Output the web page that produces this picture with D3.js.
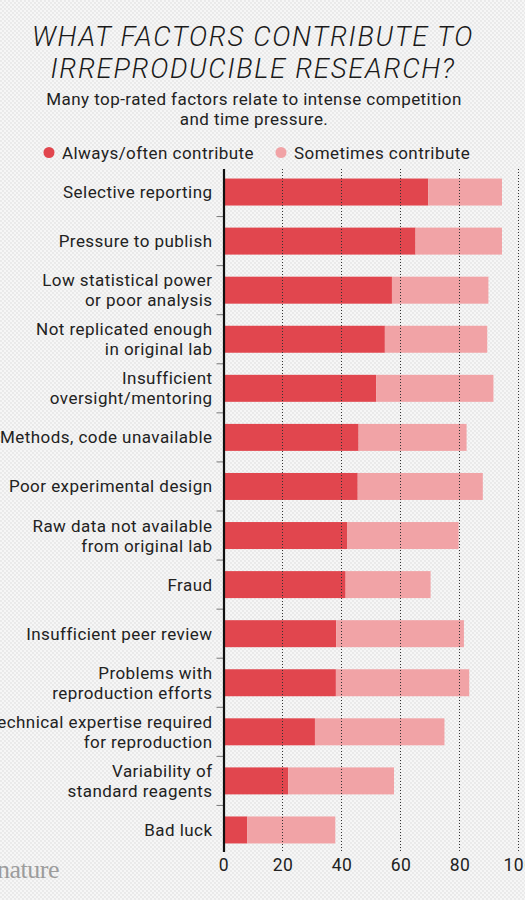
<!DOCTYPE html>
<html><head><meta charset="utf-8">
<script src="https://cdn.jsdelivr.net/npm/d3@7"></script>
<style>
html,body{margin:0;padding:0;background:#f3f3f3;}
svg{display:block;}
</style></head>
<body>
<script>
const categories = [
  ["Selective reporting"],
  ["Pressure to publish"],
  ["Low statistical power","or poor analysis"],
  ["Not replicated enough","in original lab"],
  ["Insufficient","oversight/mentoring"],
  ["Methods, code unavailable"],
  ["Poor experimental design"],
  ["Raw data not available","from original lab"],
  ["Fraud"],
  ["Insufficient peer review"],
  ["Problems with","reproduction efforts"],
  ["Technical expertise required","for reproduction"],
  ["Variability of","standard reagents"],
  ["Bad luck"]
];
const alwaysOften = [69.4, 65.1, 57.1, 54.7, 51.8, 45.8, 45.5, 42.0, 41.4, 38.2, 38.1, 31.0, 21.9, 8.0];
const totalContribute = [94.4, 94.4, 89.8, 89.4, 91.5, 82.4, 87.9, 79.7, 70.2, 81.5, 83.3, 74.9, 57.8, 37.9];
const sometimes = totalContribute.map((t,i)=> t - alwaysOften[i]);
const xTicks = [0,20,40,60,80,100];
const seriesNames = ["Always/often contribute","Sometimes contribute"];
const colors = ["#e1464e","#f1a3a6"];

const W = 525, H = 900;
const svg = d3.select("body").append("svg").attr("width",W).attr("height",H);

// textured background
const defs = svg.append("defs");
const pat = defs.append("pattern").attr("id","dots").attr("width",4).attr("height",4).attr("patternUnits","userSpaceOnUse");
pat.append("rect").attr("width",4).attr("height",4).attr("fill","#f6f6f6");
pat.append("circle").attr("cx",1).attr("cy",1).attr("r",0.9).attr("fill","#e4e4e4");
pat.append("circle").attr("cx",3).attr("cy",3).attr("r",0.9).attr("fill","#e4e4e4");
svg.append("rect").attr("width",W).attr("height",H).attr("fill","url(#dots)");

const font = "Roboto, 'Noto Sans', sans-serif";
const ls = 0.45;

// Title
const title = svg.append("text").attr("text-anchor","middle")
  .attr("font-family",font).attr("font-style","italic").attr("font-weight",300)
  .attr("font-size",27.5).attr("fill","#1a1a1a").attr("letter-spacing",1.7);
title.append("tspan").attr("x",253).attr("y",46).text("WHAT FACTORS CONTRIBUTE TO");
title.append("tspan").attr("x",253).attr("y",77.5).text("IRREPRODUCIBLE RESEARCH?");

const sub = svg.append("text").attr("text-anchor","middle")
  .attr("font-family",font).attr("font-size",17).attr("fill","#222").attr("letter-spacing",ls);
sub.append("tspan").attr("x",254).attr("y",104.5).text("Many top-rated factors relate to intense competition");
sub.append("tspan").attr("x",254).attr("y",124.5).text("and time pressure.");

// Legend
const legX = [49, 281];
seriesNames.forEach((n,i)=>{
  svg.append("circle").attr("cx",legX[i]).attr("cy",152.5).attr("r",5.5).attr("fill",colors[i]);
  svg.append("text").attr("x",legX[i]+13).attr("y",158.5).attr("font-family",font)
    .attr("font-size",17).attr("fill","#222").attr("letter-spacing",ls).text(n);
});

// Scales
const x = d3.scaleLinear().domain([0,100]).range([223.5,518.5]);
const y = d3.scaleBand().domain(d3.range(categories.length)).range([167.5,854.5])
  .paddingInner(0.45).paddingOuter(0.225);

// bars
const g = svg.append("g");
g.selectAll("rect.a").data(alwaysOften).join("rect").attr("class","a")
  .attr("x",x(0)).attr("y",(d,i)=>y(i)).attr("height",y.bandwidth())
  .attr("width",d=>x(d)-x(0)).attr("fill",colors[0]);
g.selectAll("rect.s").data(sometimes).join("rect").attr("class","s")
  .attr("x",(d,i)=>x(alwaysOften[i])).attr("y",(d,i)=>y(i)).attr("height",y.bandwidth())
  .attr("width",(d,i)=>x(alwaysOften[i]+d)-x(alwaysOften[i])).attr("fill",colors[1]);

// gridlines (dotted, over bars)
const yTop = 169, yBot = 852;
svg.append("g").selectAll("line").data(xTicks.filter(d=>d>0)).join("line")
  .attr("x1",d=>x(d)).attr("x2",d=>x(d)).attr("y1",yTop).attr("y2",yBot)
  .attr("stroke","#333").attr("stroke-width",1).attr("stroke-dasharray","1,2");

// x axis labels
const xAxis = d3.axisBottom(x).tickValues(xTicks).tickSize(0).tickPadding(0);
const xg = svg.append("g").attr("transform",`translate(0,${yBot})`).call(xAxis);
xg.select(".domain").remove();
xg.selectAll("text").attr("font-family",font).attr("font-size",17.5).attr("fill","#222")
  .attr("letter-spacing",ls).attr("dy",null).attr("y",18.5);

// y axis
const yAxis = d3.axisLeft(y).tickSize(0).tickFormat("");
const yg = svg.append("g").attr("transform",`translate(${x(0)},0)`).call(yAxis);
yg.select(".domain").remove();
// separator ticks between bars
const seps = d3.range(1, categories.length).map(i => y(i) - y.step()*y.paddingInner()/2);
svg.append("g").selectAll("line").data(seps).join("line")
  .attr("x1",x(0)-7).attr("x2",x(0)).attr("y1",d=>d).attr("y2",d=>d)
  .attr("stroke","#777").attr("stroke-width",1);
svg.append("line").attr("x1",x(0)+0.5).attr("x2",x(0)+0.5).attr("y1",yTop).attr("y2",yBot)
  .attr("stroke","#111").attr("stroke-width",2.2);

// category labels
const lab = svg.append("g").attr("font-family",font).attr("font-size",17).attr("fill","#222")
  .attr("text-anchor","end").attr("letter-spacing",ls);
categories.forEach((lines,i)=>{
  const cy = y(i) + y.bandwidth()/2;
  const t = lab.append("text").attr("x",212.5);
  if (lines.length===1) {
    t.append("tspan").attr("x",212.5).attr("y",cy+6).text(lines[0]);
  } else {
    t.append("tspan").attr("x",212.5).attr("y",cy-4).text(lines[0]);
    t.append("tspan").attr("x",212.5).attr("y",cy+16).text(lines[1]);
  }
});

// nature logo
svg.append("text").attr("x",-3).attr("y",878).attr("font-family","'Liberation Serif', 'DejaVu Serif', serif")
  .attr("font-size",26).attr("fill","#9c9c9c").attr("letter-spacing",-0.5).text("nature");
</script>
</body></html>
